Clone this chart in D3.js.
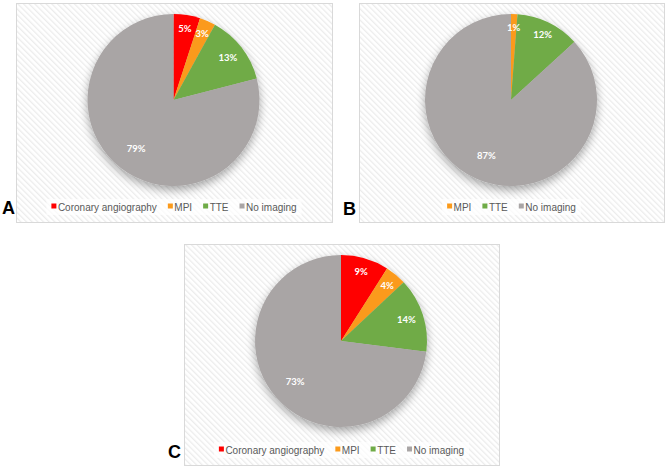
<!DOCTYPE html>
<html>
<head>
<meta charset="utf-8">
<script src="https://cdn.jsdelivr.net/npm/d3@7"></script>
<style>
  body { margin: 0; background: #fff; }
  svg { display: block; }
</style>
</head>
<body>
<svg id="chart" width="669" height="469"></svg>
<script>
// data (percent of patients per imaging test)
var categoriesA = ["Coronary angiography", "MPI", "TTE", "No imaging"];
var valuesA = [5, 3, 13, 79];

var categoriesB = ["MPI", "TTE", "No imaging"];
var valuesB = [1.2, 12, 86.8];

var categoriesC = ["Coronary angiography", "MPI", "TTE", "No imaging"];
var valuesC = [9, 4, 14, 73];

var panelLetters = ["A", "B", "C"];

var colour = d3.scaleOrdinal()
    .domain(["Coronary angiography", "MPI", "TTE", "No imaging"])
    .range(["#ff0000", "#fb9a1b", "#6fab47", "#a9a5a5"]);

var svg = d3.select("#chart");
var defs = svg.append("defs");

// light diagonal hatch used as the plot background
var hatch = defs.append("pattern")
    .attr("id", "hatch")
    .attr("patternUnits", "userSpaceOnUse")
    .attr("width", 4).attr("height", 4)
    .attr("patternTransform", "rotate(-45)");
hatch.append("rect").attr("width", 4).attr("height", 4).attr("fill", "#ffffff");
hatch.append("rect").attr("width", 1.3).attr("height", 4).attr("fill", "#ececec");

var shadow = defs.append("filter")
    .attr("id", "shadow")
    .attr("x", "-30%").attr("y", "-30%")
    .attr("width", "160%").attr("height", "160%");
shadow.append("feGaussianBlur").attr("in", "SourceAlpha").attr("stdDeviation", 5);
shadow.append("feOffset").attr("dx", 0).attr("dy", 4).attr("result", "blur");
shadow.append("feComponentTransfer").append("feFuncA").attr("type", "linear").attr("slope", 0.35);
var merge = shadow.append("feMerge");
merge.append("feMergeNode");
merge.append("feMergeNode").attr("in", "SourceGraphic");

var panels = [
    {letter: panelLetters[0], cats: categoriesA, vals: valuesA, x: 16, y: 3, w: 316, h: 219, lx: 2, ly: 214},
    {letter: panelLetters[1], cats: categoriesB, vals: valuesB, x: 359, y: 3, w: 305, h: 219, lx: 343, ly: 215},
    {letter: panelLetters[2], cats: categoriesC, vals: valuesC, x: 184, y: 244, w: 315, h: 221, lx: 168, ly: 458}
];

var radius = 86;

var pie = d3.pie().sort(null).value(function(d){ return d.value; });
var arc = d3.arc().innerRadius(0).outerRadius(radius);

panels.forEach(function(p){
    var g = svg.append("g").attr("transform", "translate(" + p.x + "," + p.y + ")");

    g.append("rect")
        .attr("x", 0.5).attr("y", 0.5)
        .attr("width", p.w).attr("height", p.h)
        .attr("fill", "url(#hatch)")
        .attr("stroke", "#d9d9d9")
        .attr("stroke-width", 1);

    var data = p.cats.map(function(c, i){ return {name: c, value: p.vals[i]}; });
    var total = d3.sum(data, function(d){ return d.value; });
    var arcs = pie(data);

    var cx = p.w / 2 - 0.5, cy = 97;
    var pieG = g.append("g").attr("transform", "translate(" + cx + "," + cy + ")");

    pieG.append("g").attr("filter", "url(#shadow)")
        .selectAll("path")
        .data(arcs)
        .enter()
        .append("path")
        .attr("d", arc)
        .attr("fill", function(d){ return colour(d.data.name); });

    //labels sit near the rim for small slices, further in for the big one
    pieG.selectAll("text")
        .data(arcs)
        .enter()
        .append("text")
        .attr("transform", function(d){
            var pct = d.data.value / total * 100;
            var r = pct >= 50 ? radius * 0.71 : (pct >= 13 ? radius * 0.8 : radius * 0.84);
            var a = (d.startAngle + d.endAngle) / 2;
            return "translate(" + (Math.sin(a) * r) + "," + (-Math.cos(a) * r) + ")";
        })
        .attr("text-anchor", "middle")
        .attr("dy", "0.35em")
        .attr("fill", "#ffffff")
        .attr("font-family", "Lato, 'Open Sans', sans-serif")
        .attr("font-weight", "bold")
        .attr("font-size", "9.5px")
        .text(function(d){ return Math.round(d.data.value / total * 100) + "%"; });

    // legend, centred under the pie
    var legend = g.append("g");
    var bg = legend.append("rect").attr("fill", "#ffffff").attr("opacity", 0.7);
    var items = legend.selectAll("g.item")
        .data(p.cats)
        .enter()
        .append("g")
        .attr("class", "item");
    items.append("rect")
        .attr("width", 5).attr("height", 5)
        .attr("y", -3.5)
        .attr("fill", function(d){ return colour(d); });
    items.append("text")
        .attr("x", 6.5)
        .attr("dy", "0.35em")
        .attr("fill", "#595959")
        .attr("font-family", "'Liberation Sans', Arial, sans-serif")
        .attr("font-size", "10px")
        .text(function(d){ return d; });

    var xpos = 0;
    items.each(function(){
        var w = d3.select(this).select("text").node().getComputedTextLength() + 6.5;
        d3.select(this).attr("transform", "translate(" + xpos + ",0)");
        xpos += w + 11;
    });
    var legendW = xpos - 11;
    var ly = p.h - 15;
    legend.attr("transform", "translate(" + (p.w / 2 - legendW / 2) + "," + ly + ")");
    bg.attr("x", -5).attr("y", -8).attr("width", legendW + 10).attr("height", 16);

    svg.append("text")
        .attr("x", p.lx).attr("y", p.ly)
        .attr("font-family", "'Liberation Sans', Arial, sans-serif")
        .attr("font-weight", "bold")
        .attr("font-size", "18px")
        .attr("fill", "#000000")
        .text(p.letter);
});
</script>
</body>
</html>
